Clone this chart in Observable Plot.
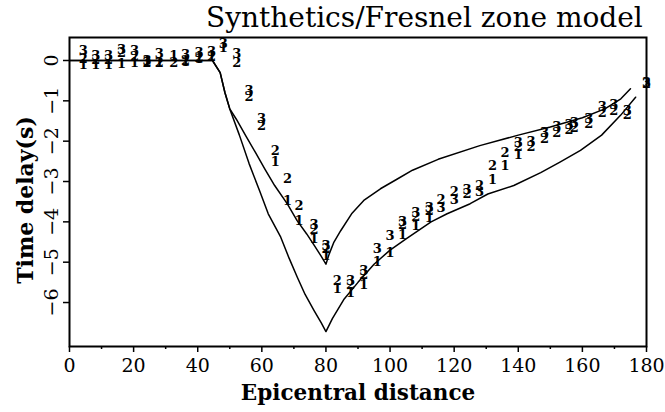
<!DOCTYPE html>
<html>
<head>
<meta charset="utf-8">
<script src="https://cdn.jsdelivr.net/npm/d3@7"></script>
<script src="https://cdn.jsdelivr.net/npm/@observablehq/plot@0.6"></script>
<style>
  html, body { margin: 0; padding: 0; background: #fff; }
  #wrap { width: 665px; }
  #title { height: 30px; overflow: visible; font-family: "DejaVu Serif", serif; font-size: 28px; line-height: 36px; padding-left: 206px; white-space: nowrap; color: #000; }
  svg { display: block; }
</style>
</head>
<body>
<div id="wrap">
  <div id="title">Synthetics/Fresnel zone model</div>
  <div id="chart"></div>
</div>
<script>
// Model curves
const curveADist  = [0, 44.6, 47, 48.5, 50, 52, 55, 58, 61, 64, 68, 71, 74, 76.4, 78.5, 80, 81, 82.5, 84.6, 88, 91.8, 97, 102, 107, 115, 128, 140, 150, 160, 167, 172, 175];
const curveADelay = [0, 0, -0.3, -0.8, -1.2, -1.45, -1.87, -2.28, -2.7, -3.1, -3.56, -3.97, -4.3, -4.59, -4.85, -5.05, -4.8, -4.5, -4.22, -3.8, -3.47, -3.18, -2.95, -2.72, -2.45, -2.11, -1.85, -1.65, -1.42, -1.2, -0.95, -0.7];
const curveBDist  = [0, 44.6, 47, 48.5, 50, 53, 56, 59.3, 62, 65.9, 68.5, 71.1, 73.5, 76.3, 78.5, 80, 82, 85.7, 90, 95, 100, 105, 112.8, 117.8, 125, 130.5, 138.6, 147, 153, 159.4, 166, 171.9, 176.6];
const curveBDelay = [0, 0, -0.3, -0.8, -1.2, -1.85, -2.55, -3.23, -3.8, -4.38, -4.9, -5.38, -5.8, -6.2, -6.5, -6.72, -6.4, -5.91, -5.5, -5.05, -4.7, -4.42, -4.0, -3.8, -3.55, -3.31, -3.1, -2.78, -2.52, -2.23, -1.85, -1.36, -0.91];

// Observed data, plotted with digit symbols
const s1Dist  = [4.3, 8.2, 12.2, 16.2, 20.3, 24.2, 28.0, 32.5, 36.2, 40.4, 44.3, 48, 64.2, 68, 71.6, 76.3, 80, 83.5, 87.7, 91.8, 96, 100, 103.9, 108, 112.2, 132, 135.9, 140];
const s1Delay = [-0.1, -0.1, -0.1, -0.08, -0.05, -0.03, -0.06, 0.12, -0.04, 0.04, 0.08, 0.32, -2.5, -3.47, -3.97, -4.43, -4.85, -5.65, -5.75, -5.55, -5.0, -4.76, -4.32, -4.1, -3.9, -2.95, -2.6, -2.35];
const s2Dist  = [4.3, 8.2, 12.2, 16.2, 20.3, 24.2, 28.0, 32.5, 36.2, 40.4, 44.3, 52.2, 56, 59.9, 64.2, 68, 71.6, 76.3, 80, 83.5, 87.7, 91.8, 103.9, 108, 112.2, 115.9, 120, 124, 127.9, 132, 135.9, 140, 144, 148.2, 152, 155.8, 157.5, 162, 166.2, 169.8, 174, 180];
const s2Delay = [0.05, 0.02, 0.02, 0.2, 0.1, -0.05, -0.06, -0.06, -0.02, 0.06, 0.1, -0.05, -0.9, -1.62, -2.25, -2.93, -3.6, -4.2, -4.68, -5.45, -5.55, -5.32, -4.08, -3.88, -3.72, -3.45, -3.25, -3.3, -3.1, -2.62, -2.3, -2.15, -2.15, -1.95, -1.8, -1.72, -1.68, -1.57, -1.3, -1.25, -1.35, -0.58];
const s3Dist  = [4.3, 8.2, 12.2, 16.2, 20.3, 24.2, 28.0, 36.2, 40.4, 44.3, 48, 52.2, 56, 59.9, 76.3, 80, 87.7, 91.8, 96, 100, 103.9, 108, 112.2, 115.9, 120, 124, 127.9, 140, 144, 148.2, 152, 155.8, 157.5, 162, 166.2, 169.8, 174, 180];
const s3Delay = [0.24, 0.12, 0.12, 0.26, 0.24, 0.0, 0.16, 0.14, 0.2, 0.22, 0.42, 0.16, -0.75, -1.45, -4.08, -4.6, -5.45, -5.22, -4.67, -4.34, -4.0, -3.78, -3.65, -3.65, -3.45, -3.2, -3.25, -2.05, -2.02, -1.8, -1.65, -1.6, -1.55, -1.45, -1.15, -1.1, -1.25, -0.55];

const xTicks = [0, 20, 40, 60, 80, 100, 120, 140, 160, 180];
const xMinorTicks = [10, 30, 50, 70, 90, 110, 130, 150, 170];
const yTicks = [0, -1, -2, -3, -4, -5, -6];

const curveA = curveADist.map((d, i) => ({dist: d, delay: curveADelay[i]}));
const curveB = curveBDist.map((d, i) => ({dist: d, delay: curveBDelay[i]}));
const pts = [
  ...s1Dist.map((d, i) => ({dist: d, delay: s1Delay[i], sym: "1"})),
  ...s2Dist.map((d, i) => ({dist: d, delay: s2Delay[i], sym: "2"})),
  ...s3Dist.map((d, i) => ({dist: d, delay: s3Delay[i], sym: "3"}))
];

const serif = "DejaVu Serif";
const chart = Plot.plot({
  width: 665,
  height: 382,
  marginLeft: 69,
  marginRight: 19,
  marginTop: 7,
  marginBottom: 66,
  style: {fontFamily: serif, color: "#000", background: "#fff", overflow: "visible"},
  x: {domain: [0, 180]},
  y: {domain: [-7.09, 0.57]},
  marks: [
    Plot.line(curveA, {x: "dist", y: "delay", stroke: "#000", strokeWidth: 1.5}),
    Plot.line(curveB, {x: "dist", y: "delay", stroke: "#000", strokeWidth: 1.5}),
    Plot.text(pts, {x: "dist", y: "delay", text: "sym", fontSize: 13, fontWeight: "bold", fill: "#000", fontFamily: serif}),
    Plot.frame({stroke: "#000", strokeWidth: 2}),
    Plot.axisX({ticks: xTicks, tickSize: 6, tickPadding: 6, fontSize: 19, stroke: "#000", strokeWidth: 1.5, label: null, tickFormat: d => String(d)}),
    Plot.axisX({ticks: xMinorTicks, tickSize: 3, stroke: "#000", strokeWidth: 1.5, text: null, label: null}),
    Plot.axisY({ticks: yTicks, tickSize: 6, stroke: "#000", strokeWidth: 1.5, text: null, label: null}),
    Plot.text(yTicks, {y: d => d, frameAnchor: "left", dx: -18, rotate: -90, text: d => d === 0 ? "0" : "\u2212" + Math.abs(d), textAnchor: "middle", lineAnchor: "middle", fontSize: 19, fill: "#000"}),
    Plot.text(["Time delay(s)"], {frameAnchor: "left", dx: -44, dy: 8, rotate: -90, text: d => d, textAnchor: "middle", lineAnchor: "middle", fontSize: 22, fontWeight: "bold", fill: "#000"}),
    Plot.text(["Epicentral distance"], {frameAnchor: "bottom", dy: 47, text: d => d, textAnchor: "middle", lineAnchor: "middle", fontSize: 21.5, fontWeight: "bold", fill: "#000"})
  ]
});
document.getElementById("chart").appendChild(chart);
</script>
</body>
</html>
